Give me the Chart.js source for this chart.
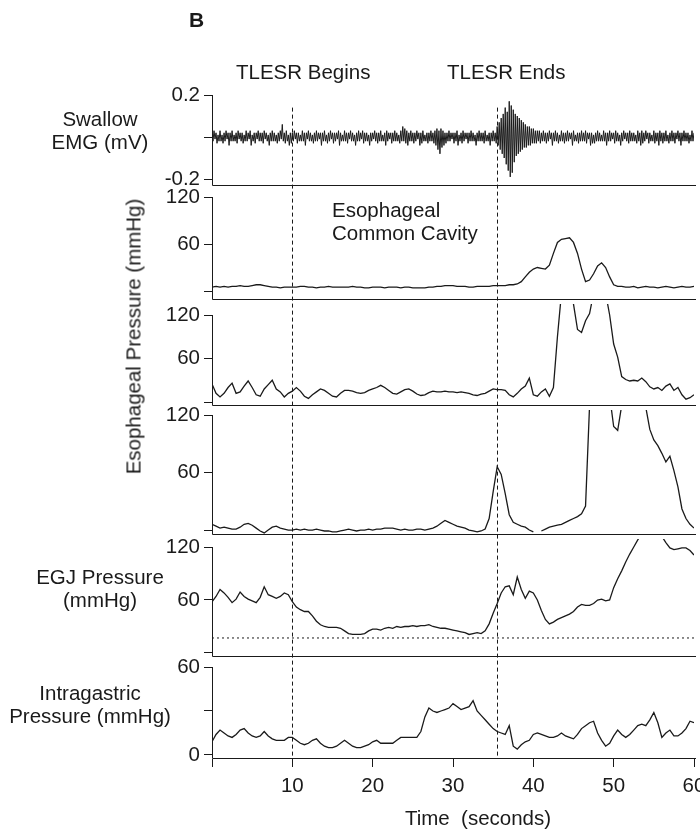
<!DOCTYPE html>
<html>
<head>
<meta charset="utf-8">
<script src="https://cdn.jsdelivr.net/npm/chart.js@4.4.1/dist/chart.umd.min.js"></script>
<style>
  html, body { margin: 0; padding: 0; background: #fff; overflow: hidden; }
  #wrap { position: relative; width: 700px; height: 832px; overflow: hidden; }
  #chart { position: absolute; left: 0; top: 0; }
  .lbl {
    position: absolute;
    font-family: "Liberation Sans", Arial, Helvetica, sans-serif;
    font-size: 20.5px;
    line-height: 23px;
    color: #1a1a1a;
    white-space: pre;
  }
  .center { text-align: center; }
</style>
</head>
<body>
<div id="wrap">
  <canvas id="chart" width="720" height="832"></canvas>

  <div class="lbl" style="left:189px;top:9px;font-size:21px;line-height:21px;font-weight:bold;">B</div>
  <div class="lbl" style="left:236px;top:60px;">TLESR Begins</div>
  <div class="lbl" style="left:447px;top:60px;">TLESR Ends</div>

  <div class="lbl center" style="left:30px;top:107px;width:140px;">Swallow
EMG (mV)</div>
  <div class="lbl center" style="left:-17px;top:325px;width:300px;transform:rotate(-90deg);">Esophageal Pressure (mmHg)</div>
  <div class="lbl" style="left:332px;top:198px;">Esophageal
Common Cavity</div>
  <div class="lbl center" style="left:20px;top:565px;width:160px;">EGJ Pressure
(mmHg)</div>
  <div class="lbl center" style="left:0px;top:681px;width:180px;">Intragastric
Pressure (mmHg)</div>
  <div class="lbl center" style="left:378px;top:806px;width:200px;">Time  (seconds)</div>
</div>

<script>
// Sampling interval of the traces (seconds)
const pressureStep = 0.5;
const emgStep = 0.125;

const timeTicks = [0, 10, 20, 30, 40, 50, 60];
const eventTimes = [10, 35.5];      // TLESR begins / ends
const eventLineTop = 0.14;          // on the EMG axis (mV)
const egjReference = 17;            // dotted line, mmHg

// Swallow EMG (mV), every 0.125 s
const emgValues = [
  .02,-.02,.03,-.01,.02,-.03,.01,-.02,.03,-.02,
  .01,-.03,.02,-.02,.03,-.01,.02,-.04,.02,-.02,
  .03,-.02,.01,-.02,.02,-.03,.03,-.01,.02,-.02,
  .02,-.03,.01,-.02,.03,-.02,.02,-.01,.03,-.04,
  .01,-.02,.02,-.03,.02,-.01,.03,-.02,.02,-.02,
  .02,-.03,.03,-.01,.02,-.02,.01,-.04,.02,-.02,
  .03,-.02,.02,-.02,.01,-.03,.02,-.02,.03,-.01,
  .06,-.02,.02,-.03,.03,-.02,.01,-.04,.02,-.03,
  .02,-.02,.03,-.01,.02,-.03,.02,-.02,.01,-.02,
  .03,-.02,.02,-.04,.02,-.01,.03,-.02,.02,-.02,
  .01,-.03,.02,-.02,.03,-.02,.02,-.01,.02,-.04,
  .02,-.02,.03,-.02,.01,-.03,.02,-.02,.03,-.01,
  .02,-.03,.02,-.02,.02,-.01,.03,-.04,.02,-.02,
  .01,-.02,.03,-.02,.02,-.03,.02,-.01,.03,-.02,
  .02,-.02,.01,-.04,.02,-.02,.03,-.02,.02,-.01,
  .03,-.03,.02,-.02,.02,-.02,.01,-.04,.02,-.02,
  .02,-.01,.03,-.02,.02,-.03,.02,-.02,.03,-.02,
  .01,-.02,.02,-.04,.03,-.02,.02,-.01,.02,-.03,
  .02,-.02,.03,-.02,.02,-.02,.01,-.03,.03,-.02,
  .05,-.02,.04,-.03,.03,-.04,.02,-.02,.03,-.02,
  .02,-.03,.02,-.02,.03,-.01,.02,-.04,.02,-.03,
  .03,-.02,.01,-.02,.02,-.03,.02,-.02,.03,-.02,
  .02,-.03,.03,-.04,.04,-.06,.03,-.08,.04,-.05,
  .03,-.04,.02,-.03,.02,-.02,.03,-.02,.02,-.01,
  .02,-.03,.02,-.02,.03,-.04,.01,-.02,.02,-.03,
  .03,-.02,.02,-.01,.02,-.03,.02,-.02,.03,-.02,
  .02,-.02,.01,-.04,.02,-.02,.03,-.02,.02,-.02,
  .02,-.03,.03,-.02,.01,-.02,.02,-.04,.02,-.02,
  .03,-.02,.02,-.03,.05,-.04,.07,-.06,.09,-.08,
  .11,-.10,.14,-.13,.12,-.16,.17,-.19,.15,-.17,
  .13,-.12,.11,-.09,.10,-.08,.09,-.07,.08,-.06,
  .07,-.05,.06,-.05,.05,-.04,.05,-.04,.04,-.03,
  .04,-.03,.03,-.03,.03,-.02,.03,-.03,.02,-.02,
  .03,-.02,.02,-.03,.02,-.02,.03,-.01,.02,-.04,
  .02,-.02,.03,-.02,.02,-.03,.01,-.02,.03,-.02,
  .02,-.03,.02,-.02,.03,-.02,.02,-.01,.02,-.04,
  .03,-.02,.01,-.02,.02,-.03,.02,-.02,.03,-.02,
  .02,-.02,.03,-.03,.02,-.01,.02,-.04,.02,-.03,
  .01,-.03,.02,-.02,.03,-.02,.02,-.02,.01,-.02,
  .03,-.02,.02,-.04,.02,-.02,.03,-.02,.02,-.01,
  .02,-.03,.03,-.02,.02,-.02,.01,-.04,.02,-.02,
  .03,-.01,.02,-.02,.02,-.03,.03,-.02,.02,-.02,
  .02,-.02,.01,-.03,.03,-.02,.02,-.04,.03,-.03,
  .02,-.02,.03,-.01,.02,-.03,.02,-.02,.01,-.02,
  .03,-.03,.02,-.02,.02,-.04,.03,-.02,.02,-.03,
  .02,-.02,.03,-.02,.01,-.03,.02,-.02,.03,-.02,
  .02,-.03,.02,-.01,.03,-.02,.02,-.04,.02,-.02,
  .03,-.02,.02,-.02,.02,-.03,.01,-.02,.03,-.02,
  .02
];

// Esophageal pressures (mmHg), every 0.5 s
const commonCavity = [
  5,6,5,6,5,6,6,7,6,6,
  7,8,8,7,6,5,5,4,5,5,
  5,5,6,6,5,5,4,5,5,6,
  5,5,5,5,5,6,5,5,4,4,
  5,5,5,4,5,5,5,4,5,5,
  4,4,4,4,5,5,6,6,7,7,
  7,6,6,6,5,5,6,6,6,6,
  7,7,7,7,8,8,9,12,18,24,
  28,30,29,28,33,48,62,66,67,68,
  62,48,28,12,14,22,32,36,30,18,
  8,6,6,5,5,6,4,5,6,5,
  5,4,5,6,5,4,5,6,5,5,
  6
];

const esophagealMid = [
  25,12,7,12,20,26,12,14,22,29,
  20,10,8,18,24,30,18,14,7,12,
  15,20,15,8,5,10,14,18,16,12,
  8,7,12,16,16,15,13,12,13,16,
  18,20,23,20,16,12,11,14,17,18,
  15,11,9,10,13,15,14,14,15,14,
  14,13,14,13,12,10,9,11,12,15,
  18,17,17,16,10,7,12,18,22,33,
  10,8,14,18,8,20,90,150,160,160,
  135,100,96,112,122,150,160,160,150,120,
  80,62,35,31,29,30,29,33,28,21,
  18,20,16,22,25,16,20,10,4,6,
  10
];

const esophagealDistal = [
  6,4,2,3,2,1,1,3,6,7,
  5,2,-1,-3,0,3,4,2,1,0,
  0,1,0,1,0,0,1,0,-1,-1,
  -2,-2,-1,0,1,0,-1,0,0,1,
  0,1,1,2,2,2,1,0,1,0,
  0,1,1,0,1,2,4,7,10,8,
  6,4,3,2,0,-1,-2,-1,1,12,
  40,66,58,38,16,8,6,4,3,0,
  -2,null,-1,1,3,4,5,6,8,10,
  12,14,17,25,130,160,160,160,160,140,
  108,104,130,160,160,160,160,160,128,105,
  94,88,80,71,77,62,45,22,12,6,
  2
];

// EGJ and intragastric pressures (mmHg), every 0.5 s
const egjPressure = [
  58,64,72,68,63,57,61,69,64,61,
  59,57,63,75,66,64,62,64,68,66,
  58,52,49,47,47,42,36,32,30,29,
  29,29,28,25,22,21,21,21,22,25,
  27,27,26,28,29,28,30,29,30,30,
  31,30,31,31,32,30,29,28,28,27,
  26,25,24,23,21,22,23,22,25,33,
  45,56,68,75,76,66,86,72,62,70,
  68,60,48,38,33,35,38,40,42,44,
  47,52,55,54,54,56,60,61,59,60,
  74,84,93,103,112,120,128,135,140,140,
  140,138,132,125,119,117,118,119,119,116,
  111
];

const gastricPressure = [
  9,14,17,15,13,12,14,17,18,15,
  13,12,13,16,13,11,10,10,10,12,
  12,10,8,7,8,10,11,8,6,5,
  5,6,8,10,8,6,5,5,6,7,
  9,10,8,8,8,8,10,12,12,12,
  12,12,16,26,32,30,29,30,31,32,
  35,33,31,32,33,37,30,27,24,21,
  18,16,15,14,20,6,4,7,9,10,
  14,15,14,13,12,12,13,15,13,12,
  11,14,18,20,22,23,15,10,6,8,
  13,17,14,12,14,17,20,21,20,24,
  29,22,12,15,17,13,13,15,18,23,
  22
];

// Panel layout: axis range, ticks and the value where each panel's base line sits
const panels = [
  { id: 'yEmg', min: -0.2857, max: 0.2, floor: -0.233, ticks: [-0.2, 0, 0.2], blank: [0], weight: 102 },
  { id: 'yCavity', min: -30.6, max: 120, floor: -11.5, ticks: [0, 60, 120], blank: [0], weight: 118 },
  { id: 'yMid', min: -17.9, max: 120, floor: -5.5, ticks: [0, 60, 120], blank: [0], weight: 100 },
  { id: 'yDistal', min: -17.7, max: 120, floor: -5.2, ticks: [0, 60, 120], blank: [0], weight: 132 },
  { id: 'yEgj', min: -15.85, max: 120, floor: -4.5, ticks: [0, 60, 120], blank: [0], weight: 120 },
  { id: 'yGastric', min: -2.73, max: 60, floor: -2.73, ticks: [0, 30, 60], blank: [30], weight: 92 }
];

const FONT = { family: '"Liberation Sans", Arial, sans-serif', size: 20.5 };
const INK = '#1a1a1a';

function toPoints(values, step) {
  return values.map((v, i) => ({ x: i * step, y: v }));
}

function trace(values, step, yAxisID, width) {
  return {
    data: toPoints(values, step),
    yAxisID,
    borderColor: INK,
    borderWidth: width,
    pointRadius: 0,
    tension: 0,
    spanGaps: false,
    clip: false
  };
}

// Clip each trace to its own panel (between the previous panel's base line and its own)
const panelClip = {
  id: 'panelClip',
  beforeDatasetDraw(chart, args) {
    const { ctx, chartArea, scales } = chart;
    const idx = panels.findIndex(p => p.id === args.meta.yAxisID);
    const p = panels[idx];
    const prev = panels[idx - 1];
    const top = prev ? scales[prev.id].getPixelForValue(prev.floor) + 4 : 0;
    const bottom = scales[p.id].getPixelForValue(p.floor);
    ctx.save();
    ctx.beginPath();
    ctx.rect(chartArea.left, top, chartArea.right - chartArea.left, bottom - top);
    ctx.clip();
  },
  afterDatasetDraw(chart) {
    chart.ctx.restore();
  }
};

// Left axis line and base line of each panel, plus the TLESR markers
const panelFrames = {
  id: 'panelFrames',
  afterDatasetsDraw(chart) {
    const { ctx, chartArea, scales } = chart;
    const left = Math.round(chartArea.left) + 0.5;
    ctx.save();
    ctx.strokeStyle = INK;
    ctx.lineWidth = 1;
    panels.forEach(p => {
      const s = scales[p.id];
      const top = s.getPixelForValue(p.max);
      const base = Math.round(s.getPixelForValue(p.floor)) - 0.5;
      ctx.beginPath();
      ctx.moveTo(left, top);
      ctx.lineTo(left, base);
      ctx.lineTo(chartArea.right + 2, base);
      ctx.stroke();
    });

    ctx.setLineDash([4, 3]);
    const markTop = scales.yEmg.getPixelForValue(eventLineTop);
    eventTimes.forEach(t => {
      const x = Math.round(scales.x.getPixelForValue(t)) + 0.5;
      ctx.beginPath();
      ctx.moveTo(x, markTop);
      ctx.lineTo(x, chartArea.bottom);
      ctx.stroke();
    });
    ctx.restore();
  }
};

const yScales = {};
panels.forEach((p, i) => {
  yScales[p.id] = {
    type: 'linear',
    position: 'left',
    stack: 'panels',
    stackWeight: p.weight,
    weight: panels.length - i,
    min: p.min,
    max: p.max,
    afterBuildTicks: scale => { scale.ticks = p.ticks.map(v => ({ value: v })); },
    afterFit: scale => { scale.width = 212; },
    border: { display: false },
    grid: { drawOnChartArea: false, drawTicks: true, tickLength: 8, color: INK },
    ticks: {
      autoSkip: false,
      padding: 4,
      color: INK,
      font: FONT,
      callback: v => (p.blank.includes(v) ? '' : String(v))
    }
  };
});

const datasets = [
  trace(emgValues, emgStep, 'yEmg', 1),
  trace(commonCavity, pressureStep, 'yCavity', 1.3),
  trace(esophagealMid, pressureStep, 'yMid', 1.3),
  trace(esophagealDistal, pressureStep, 'yDistal', 1.3),
  trace(egjPressure, pressureStep, 'yEgj', 1.3),
  {
    data: [{ x: timeTicks[0], y: egjReference }, { x: timeTicks[timeTicks.length - 1], y: egjReference }],
    yAxisID: 'yEgj',
    borderColor: INK,
    borderWidth: 1,
    borderDash: [2, 3],
    pointRadius: 0,
    clip: false
  },
  trace(gastricPressure, pressureStep, 'yGastric', 1.3)
];

new Chart(document.getElementById('chart'), {
  type: 'line',
  data: { datasets },
  options: {
    responsive: false,
    animation: false,
    devicePixelRatio: 1,
    layout: { padding: { top: 95, right: 26, bottom: 0, left: 0 } },
    plugins: { legend: { display: false }, tooltip: { enabled: false } },
    scales: {
      x: {
        type: 'linear',
        position: 'bottom',
        min: 0,
        max: 60,
        afterBuildTicks: scale => { scale.ticks = timeTicks.map(v => ({ value: v })); },
        afterFit: scale => { scale.height = 73; },
        border: { display: false },
        grid: { drawOnChartArea: false, tickLength: 8, color: INK },
        ticks: {
          autoSkip: false,
          maxRotation: 0,
          padding: 7,
          color: INK,
          font: FONT,
          callback: v => (v === 0 ? '' : String(v))
        }
      },
      ...yScales
    }
  },
  plugins: [panelClip, panelFrames]
});
</script>
</body>
</html>
